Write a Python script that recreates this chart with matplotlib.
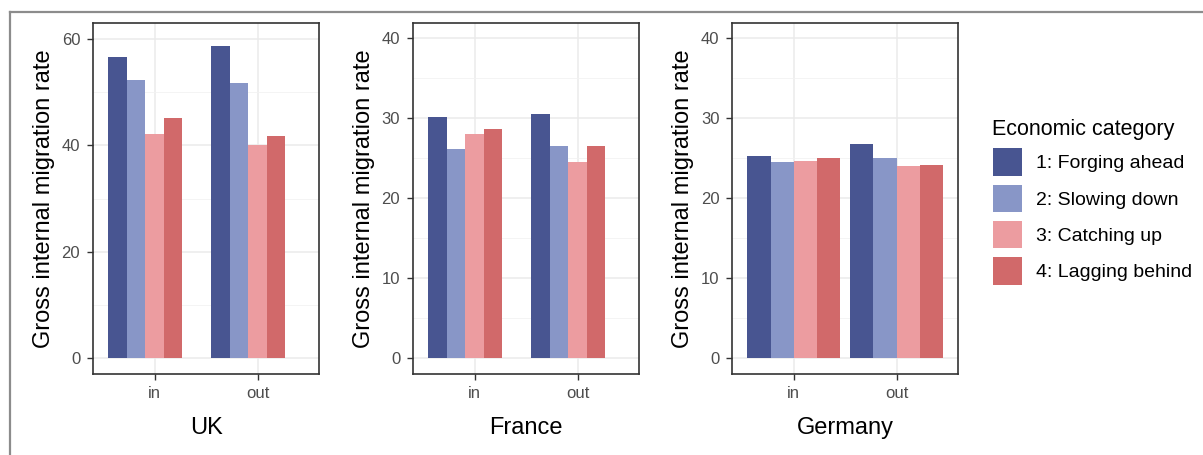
import matplotlib
matplotlib.use('Agg')
import matplotlib.pyplot as plt
from matplotlib.patches import Patch
from matplotlib.lines import Line2D
import numpy as np

plt.rcParams['font.family'] = ['Liberation Sans', 'DejaVu Sans']

# data
countries = ['UK', 'France', 'Germany']
directions = ['in', 'out']
categories = ['1: Forging ahead', '2: Slowing down', '3: Catching up', '4: Lagging behind']
colors = ['#485591', '#8896C7', '#EC9CA0', '#D1696A']

uk_values = [[56.6, 58.6], [52.2, 51.6], [42.2, 40.1], [45.1, 41.8]]
france_values = [[30.15, 30.6], [26.2, 26.6], [28.1, 24.5], [28.65, 26.5]]
germany_values = [[25.35, 26.8], [24.6, 25.1], [24.7, 24.1], [25.1, 24.2]]

uk_ticks = [0, 20, 40, 60]
other_ticks = [0, 10, 20, 30, 40]

W, H = 1203, 455
fig = plt.figure(figsize=(W / 100, H / 100), dpi=100)

# panel boxes in pixels: (left, right)
panels = [(92.7, 319.3), (412.7, 639.3), (732.0, 958.3)]
top_px, bot_px = 23.3, 374.0

# UK/France have a 5th (empty) dodge slot, Germany only 4
slot_counts = [5, 5, 4]
ylims = [(-2.94, 62.9), (-1.96, 41.9), (-1.96, 41.9)]
tick_sets = [uk_ticks, other_ticks, other_ticks]
all_values = [uk_values, france_values, germany_values]

for i, country in enumerate(countries):
    l, r = panels[i]
    ax = fig.add_axes([l / W, 1 - bot_px / H, (r - l) / W, (bot_px - top_px) / H])
    vals = all_values[i]
    n = slot_counts[i]
    bw = 0.9 / n
    x = np.arange(1, len(directions) + 1)
    for k, cat in enumerate(categories):
        offs = -0.45 + bw * (k + 0.5)
        ax.bar(x + offs, vals[k], width=bw, color=colors[k], edgecolor='none', zorder=3)
    ax.set_xlim(0.4, 2.6)
    ax.set_ylim(*ylims[i])
    ticks = tick_sets[i]
    ax.set_yticks(ticks)
    minor = [(a + b) / 2 for a, b in zip(ticks[:-1], ticks[1:])]
    ax.set_yticks(minor, minor=True)
    ax.set_xticks(x)
    ax.set_xticklabels(directions)
    ax.grid(True, which='major', color='#EBEBEB', linewidth=1.1, zorder=0)
    ax.grid(True, which='minor', axis='y', color='#F2F2F2', linewidth=0.6, zorder=0)
    ax.set_axisbelow(True)
    ax.tick_params(which='major', length=4, width=1, color='#333333',
                   labelcolor='#4D4D4D', labelsize=12, pad=5)
    ax.tick_params(which='minor', length=0)
    for s in ax.spines.values():
        s.set_color('#333333')
        s.set_linewidth(1.2)
    ax.set_ylabel('Gross internal migration rate', fontsize=17, color='black', labelpad=5)
    ax.set_xlabel(country, fontsize=17, color='black', labelpad=11)

handles = [Patch(facecolor=c, edgecolor='none') for c in colors]
leg = fig.legend(handles, categories, title='Economic category',
                 loc='upper left', bbox_to_anchor=(975 / W, 1 - 101 / H),
                 frameon=False, fontsize=14, title_fontsize=15.5,
                 handlelength=1.5, handleheight=1.8, handletextpad=0.75,
                 labelspacing=0.45, alignment='left')

# outer border remnant (top and left gray lines)
fig.add_artist(Line2D([10 / W, 1], [1 - 12 / H, 1 - 12 / H], color='#8C8C8C', linewidth=1.6,
                      transform=fig.transFigure))
fig.add_artist(Line2D([10 / W, 10 / W], [0, 1 - 12 / H], color='#8C8C8C', linewidth=1.6,
                      transform=fig.transFigure))

fig.savefig('out.png', dpi=100)
